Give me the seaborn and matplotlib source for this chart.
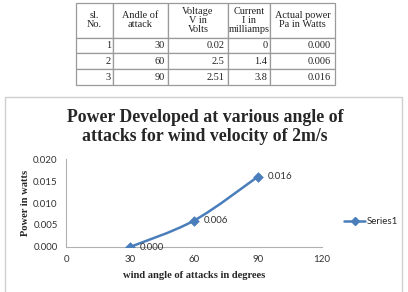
import numpy as np
import pandas as pd
import matplotlib
matplotlib.use("Agg")
import matplotlib.pyplot as plt
import seaborn as sns
from matplotlib.path import Path
from matplotlib.patches import PathPatch, Rectangle
from matplotlib.lines import Line2D

# table values
col_headers = ["sl.\nNo.", "Andle of\nattack", "Voltage\nV in\nVolts", "Current\nI in\nmilliamps", "Actual power\nPa in Watts"]
sl_no = ["1", "2", "3"]
angle = ["30", "60", "90"]
voltage = ["0.02", "2.5", "2.51"]
current = ["0", "1.4", "3.8"]
power_txt = ["0.000", "0.006", "0.016"]

# chart values
angles = [30, 60, 90]
power = [0.000, 0.006, 0.016]
x_ticks = [0, 30, 60, 90, 120]
y_ticks = [0.000, 0.005, 0.010, 0.015, 0.020]

sns.set_style("white")
serif = "Liberation Serif"
sans = "Lato"
blue = "#4A7EBB"

W, H = 408, 292
fig = plt.figure(figsize=(W / 100, H / 100), dpi=100)

def fx(px):
    return px / W

def fy(py):
    return 1 - py / H

# ---- table ----
tab_ax = fig.add_axes([fx(76), fy(85), fx(335 - 76), (85 - 3) / H])
tab_ax.axis("off")
rows = [list(r) for r in zip(sl_no, angle, voltage, current, power_txt)]
widths = np.array([37, 55, 60, 42, 65], dtype=float)
tbl = tab_ax.table(cellText=rows, colLabels=col_headers, colWidths=list(widths / widths.sum()),
                   cellLoc="right", bbox=[0, 0, 1, 1])
tbl.auto_set_font_size(False)
for (r, c), cell in tbl.get_celld().items():
    cell.set_edgecolor("#9a9a9a")
    cell.set_linewidth(0.9)
    cell.set_height(35 if r == 0 else 16)
    t = cell.get_text()
    t.set_fontfamily(serif)
    t.set_fontsize(7.4)
    t.set_color("#222222")
    if r == 0:
        t.set_horizontalalignment("center")
        t.set_linespacing(1.0)
    else:
        cell.PAD = 0.06

# ---- chart box ----
fig.patches.append(Rectangle((fx(5), fy(320)), fx(402 - 5), (320 - 97) / H,
                             transform=fig.transFigure, fill=False,
                             edgecolor="#cfcfcf", linewidth=1.0))

fig.text(fx(205), fy(127), "Power Developed at various angle of\nattacks for wind velocity of 2m/s",
         ha="center", va="center", fontfamily=serif, fontweight="bold",
         fontsize=12.8, linespacing=1.2)

ax = fig.add_axes([fx(66), fy(247), fx(322 - 66), (247 - 159) / H])
df = pd.DataFrame({"angle": angles, "power": power})

# smoothed line (Catmull-Rom style bezier through the data points)
pts = np.column_stack([angles, power]).astype(float)
ext = np.vstack([pts[0], pts, pts[-1]])
verts = [tuple(pts[0])]
codes = [Path.MOVETO]
for i in range(len(pts) - 1):
    p_prev, p0, p1, p_next = ext[i], ext[i + 1], ext[i + 2], ext[i + 3]
    c1 = p0 + (p1 - p_prev) / 6
    c2 = p1 - (p_next - p0) / 6
    verts += [tuple(c1), tuple(c2), tuple(p1)]
    codes += [Path.CURVE4] * 3
ax.add_patch(PathPatch(Path(verts, codes), facecolor="none", edgecolor=blue, linewidth=1.8, zorder=2))

sns.scatterplot(data=df, x="angle", y="power", marker="D", s=24, color=blue,
                edgecolor=blue, linewidth=0.5, ax=ax, zorder=3, legend=False)

for a, p in zip(angles, power):
    ax.annotate(f"{p:.3f}", (a, p), xytext=(7, 0), textcoords="offset points",
                va="center", ha="left", fontfamily=sans, fontsize=7, color="#333333")

ax.set_xlim(0, 120)
ax.set_ylim(0, 0.020)
ax.set_xticks(x_ticks)
ax.set_yticks(y_ticks)
ax.set_xticklabels([str(t) for t in x_ticks], fontfamily=sans, fontsize=7, color="#333333")
ax.set_yticklabels([f"{t:.3f}" for t in y_ticks], fontfamily=sans, fontsize=7, color="#333333")
ax.tick_params(axis="both", length=0, pad=6)
for s in ["top", "right"]:
    ax.spines[s].set_visible(False)
for s in ["left", "bottom"]:
    ax.spines[s].set_color("#b0b0b0")
    ax.spines[s].set_linewidth(0.8)
ax.set_facecolor("none")
ax.set_xlabel("wind angle of attacks in degrees", fontfamily=serif, fontweight="bold",
              fontsize=7.6, labelpad=5)
ax.set_ylabel("Power in watts", fontfamily=serif, fontweight="bold", fontsize=7.6, labelpad=2)

handle = Line2D([], [], color=blue, linewidth=1.8, marker="D", markersize=4)
fig.legend([handle], ["Series1"], loc="center left", bbox_to_anchor=(fx(344), fy(222)),
           frameon=False, handlelength=2.2, handletextpad=0.1, borderpad=0,
           borderaxespad=0, prop={"family": sans, "size": 7})

fig.savefig("out.png", dpi=100)
